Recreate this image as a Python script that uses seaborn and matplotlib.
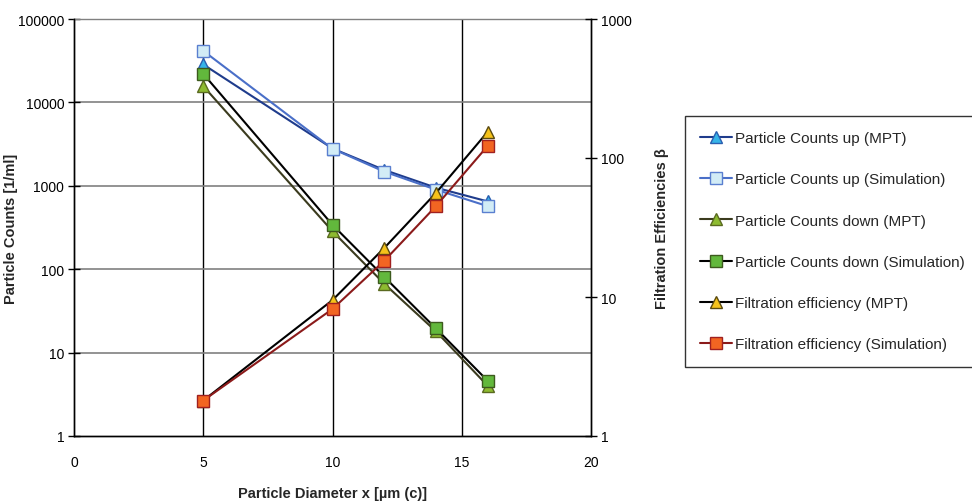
import matplotlib
matplotlib.use("Agg")
import matplotlib.pyplot as plt
import seaborn as sns
import pandas as pd
from matplotlib.ticker import FixedLocator, NullLocator, FuncFormatter

sns.set_theme(style="white")
plt.rcParams['font.family'] = ['Liberation Sans', 'DejaVu Sans']

diameter = [5, 10, 12, 14, 16]
counts_up_mpt = [28500, 2800, 1550, 950, 650]
counts_up_sim = [41500, 2780, 1480, 900, 570]
counts_down_mpt = [15700, 285, 67, 18, 4.0]
counts_down_sim = [22000, 340, 81, 19.5, 4.6]
eff_mpt = [1.8, 9.5, 22.5, 56, 154]
eff_sim = [1.8, 8.2, 18.2, 45, 122]

labels = ["Particle Counts up (MPT)", "Particle Counts up (Simulation)",
          "Particle Counts down (MPT)", "Particle Counts down (Simulation)",
          "Filtration efficiency (MPT)", "Filtration efficiency (Simulation)"]

fig = plt.figure(figsize=(9.72, 5.02), dpi=100)
ax = fig.add_axes([74/972, 65/502, (591-74)/972, (437-20)/502])
ax2 = ax.twinx()

styles = [
    # data, axis, line color, marker, face, edge
    (counts_up_mpt, ax, "#1f3c8c", "^", "#36b4e8", "#2a5fb0"),
    (counts_up_sim, ax, "#4a6fc8", "s", "#d2ecf6", "#5a7fd0"),
    (counts_down_mpt, ax, "#3b3b1e", "^", "#8dbb30", "#5a6a20"),
    (counts_down_sim, ax, "#000000", "s", "#62b83c", "#3d5a1e"),
    (eff_mpt, ax2, "#000000", "^", "#f5c21a", "#5a4a10"),
    (eff_sim, ax2, "#8b1a1a", "s", "#f26522", "#a02020"),
]

handles = []
for (vals, a, lc, mk, fc, ec), lab in zip(styles, labels):
    df = pd.DataFrame({"x": diameter, "y": vals})
    sns.lineplot(data=df, x="x", y="y", ax=a, color=lc, marker=mk,
                 markersize=8, markerfacecolor=fc, markeredgecolor=ec,
                 markeredgewidth=1.0, linewidth=1.5, label=lab, legend=False)
    handles.append(a.lines[-1])

ax.set_yscale("log")
ax2.set_yscale("log")
ax.set_ylim(1, 100000)
ax2.set_ylim(1, 1000)
ax.set_xlim(0, 20)
ax.set_xticks([0, 5, 10, 15, 20])
ax.yaxis.set_major_locator(FixedLocator([1, 10, 100, 1000, 10000, 100000]))
ax.yaxis.set_minor_locator(NullLocator())
ax2.yaxis.set_major_locator(FixedLocator([1, 10, 100, 1000]))
ax2.yaxis.set_minor_locator(NullLocator())
fmt = FuncFormatter(lambda v, p: f"{int(round(v))}")
ax.yaxis.set_major_formatter(fmt)
ax2.yaxis.set_major_formatter(fmt)

ax.grid(False)
for xv in [5, 10, 15]:
    ax.axvline(xv, color="black", lw=1.0, zorder=0)
for yv in [10, 100, 1000, 10000, 100000]:
    ax.axhline(yv, color="#808080", lw=1.2, zorder=0)

for a in (ax, ax2):
    for s in a.spines.values():
        s.set_color("black")
        s.set_linewidth(1.0)
    a.tick_params(axis="both", direction="inout", length=8, width=1,
                  colors="black", labelsize=10, pad=3)
ax.tick_params(axis="x", pad=10)
ax2.spines["top"].set_visible(False)
ax.spines["top"].set_color("#808080")

ax.set_xlabel("Particle Diameter x [µm (c)]", fontsize=10.5, fontweight="bold", labelpad=12)
ax.set_ylabel("Particle Counts [1/ml]", fontsize=10.5, fontweight="bold")
ax2.set_ylabel("Filtration Efficiencies β", fontsize=10.5, fontweight="bold")
ax.yaxis.set_label_coords((18 - 74) / 517, 0.5)
ax2.yaxis.set_label_coords((655 - 74) / 517, 0.5)

leg = fig.legend(handles=handles, labels=labels, loc="upper left",
                 bbox_to_anchor=(685/972, (502-117)/502, (1000-685)/972, 0.0),
                 mode="expand", frameon=True,
                 fancybox=False, edgecolor="black", fontsize=11,
                 labelspacing=1.78, handlelength=2.05, handletextpad=0.2,
                 borderpad=1.0, borderaxespad=0)
leg.get_frame().set_linewidth(1.0)

fig.savefig("out.png", dpi=100)
